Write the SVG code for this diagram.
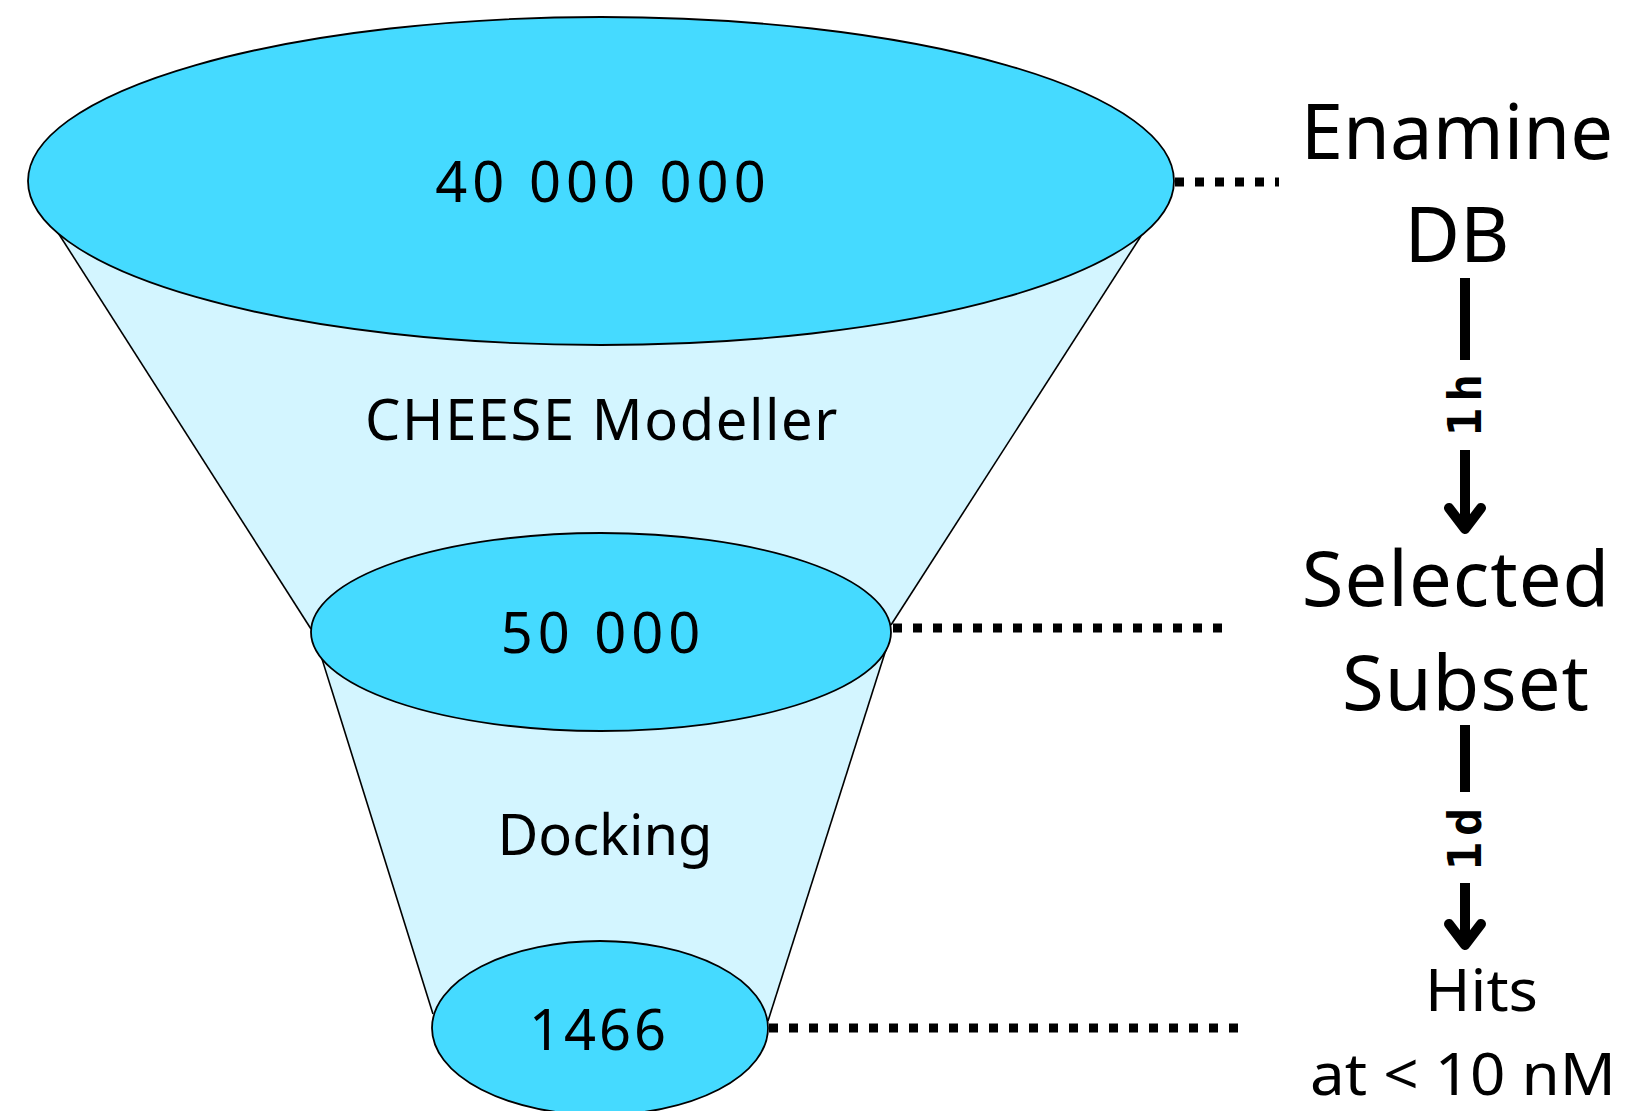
<svg xmlns="http://www.w3.org/2000/svg" width="1625" height="1111" viewBox="0 0 1625 1111">
<style>
.cone{fill:#d3f5ff;stroke:none}
.side{stroke:#000;stroke-width:1.6;fill:none}
.disc{fill:#45daff;stroke:#000;stroke-width:1.8}
.num{font-family:"Noto Sans",sans-serif;font-size:56px;fill:#000;text-anchor:middle}
.lbl{font-family:"Noto Sans",sans-serif;font-size:76px;fill:#000;text-anchor:middle}
.lbs{font-family:"Noto Sans",sans-serif;fill:#000;text-anchor:start}
.dot{stroke:#000;stroke-width:9;stroke-dasharray:9 11;fill:none}
.arr{stroke:#000;stroke-width:10;fill:none;stroke-linecap:butt}
.head{stroke:#000;stroke-width:10;fill:none;stroke-linecap:round;stroke-linejoin:round}
.t{font-family:"DejaVu Sans Mono",monospace;font-weight:bold;font-size:47px;fill:#000;text-anchor:middle}
</style>
<g id="cones">
<polygon class="cone" points="55,228 1141,236 891,625 311,629"/>
<line class="side" x1="55" y1="228" x2="311" y2="629"/>
<line class="side" x1="1141" y1="236" x2="891" y2="625"/>
<polygon class="cone" points="322,659 889,640 768,1021 433,1014"/>
<line class="side" x1="322" y1="659" x2="433" y2="1014"/>
<line class="side" x1="889" y1="640" x2="768" y2="1021"/>
</g>
<g id="stage-top">
<ellipse class="disc" cx="601" cy="181" rx="573" ry="164"/>
<text class="num" x="603" y="202" letter-spacing="5">40 000 000</text>
</g>
<g id="step-cheese"><text class="num" x="602" y="440" letter-spacing="1.6">CHEESE Modeller</text></g>
<g id="stage-mid">
<ellipse class="disc" cx="601" cy="632" rx="290" ry="99"/>
<text class="num" x="603" y="653" letter-spacing="5">50 000</text>
</g>
<g id="step-docking"><text class="num" x="605" y="855">Docking</text></g>
<g id="stage-bottom">
<ellipse class="disc" cx="600" cy="1028" rx="168" ry="87"/>
<text class="num" x="599" y="1050" letter-spacing="3">1466</text>
</g>
<g id="label-enamine">
<text class="lbl" x="1457" y="159">Enamine</text>
<text class="lbl" x="1457" y="262">DB</text>
</g>
<g id="label-selected">
<text class="lbl" x="1456" y="606" letter-spacing="1">Selected</text>
<text class="lbl" x="1466" y="710" letter-spacing="1">Subset</text>
</g>
<g id="label-hits">
<text class="lbs" x="1425" y="1011" font-size="59" textLength="113" lengthAdjust="spacingAndGlyphs">Hits</text>
<text class="lbs" x="1310" y="1095" font-size="58" textLength="306" lengthAdjust="spacingAndGlyphs">at &lt; 10 nM</text>
</g>
<g id="connectors">
<line class="dot" x1="1175" y1="182" x2="1279" y2="182"/>
<line class="dot" x1="893" y1="628" x2="1225" y2="628"/>
<line class="dot" x1="769" y1="1028" x2="1240" y2="1028"/>
<line class="arr" x1="1465" y1="278" x2="1465" y2="360"/>
<text class="t" transform="translate(1481,402) rotate(-90)" letter-spacing="6">1h</text>
<line class="arr" x1="1465" y1="450" x2="1465" y2="528"/>
<polyline class="head" points="1449,508 1465,529 1481,508"/>
<line class="arr" x1="1465" y1="725" x2="1465" y2="792"/>
<text class="t" transform="translate(1481,836) rotate(-90)" letter-spacing="6">1d</text>
<line class="arr" x1="1465" y1="883" x2="1465" y2="944"/>
<polyline class="head" points="1449,924 1465,945 1481,924"/>
</g>
</svg>
